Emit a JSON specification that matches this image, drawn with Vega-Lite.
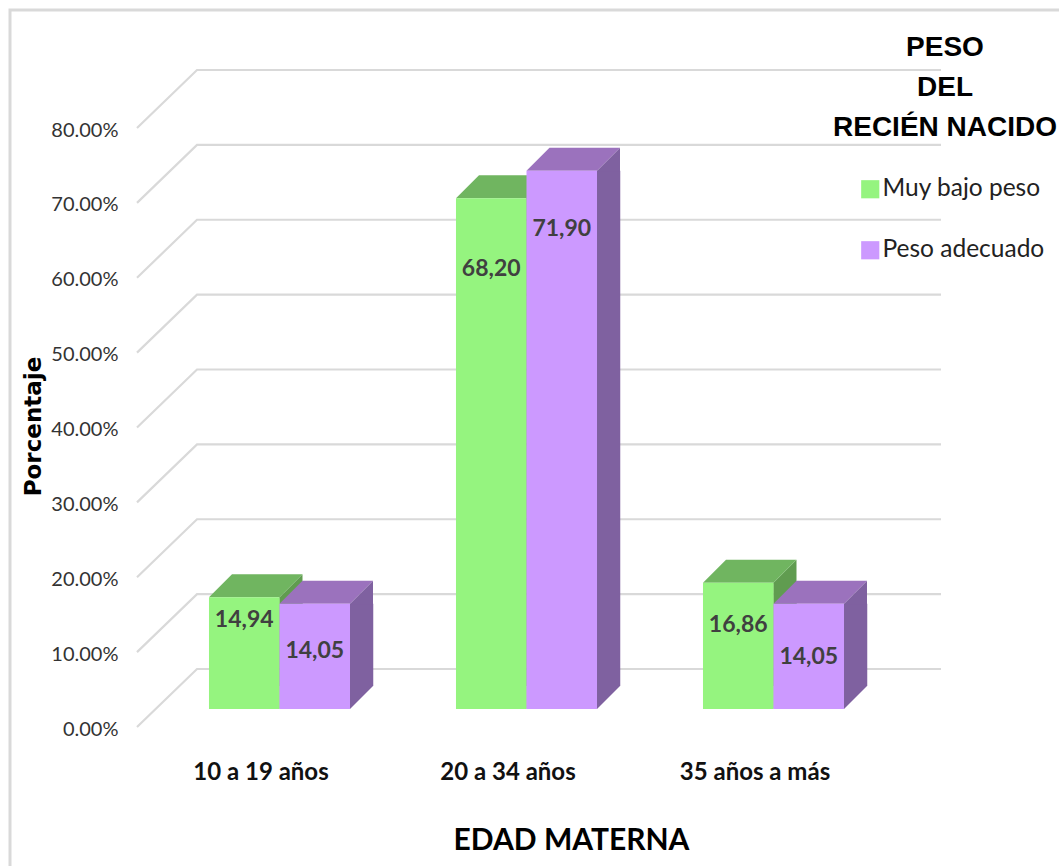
{
"$schema":"https://vega.github.io/schema/vega-lite/v6.json",
"width":741,"height":599,
"padding":{"left":156,"top":110,"right":162,"bottom":157},
"autosize":{"type":"none"},
"background":"white",
"config":{"view":{"stroke":null}},
"datasets":{
"barras":[
{"edad":"10 a 19 años","serie":"Muy bajo peso","valor":14.94,"etiqueta":"14,94"},
{"edad":"10 a 19 años","serie":"Peso adecuado","valor":14.05,"etiqueta":"14,05"},
{"edad":"20 a 34 años","serie":"Muy bajo peso","valor":68.2,"etiqueta":"68,20"},
{"edad":"20 a 34 años","serie":"Peso adecuado","valor":71.9,"etiqueta":"71,90"},
{"edad":"35 años a más","serie":"Muy bajo peso","valor":16.86,"etiqueta":"16,86"},
{"edad":"35 años a más","serie":"Peso adecuado","valor":14.05,"etiqueta":"14,05"}],
"marcas":[{"marca":0},{"marca":10},{"marca":20},{"marca":30},{"marca":40},{"marca":50},{"marca":60},{"marca":70},{"marca":80}],
"marco":[{"marca":0}]
},
"data":{"name":"barras"},
"resolve":{"scale":{"color":"independent"}},
"layer":[
{"data":{"name":"marco"},
 "mark":{"type":"point","shape":"M-5.165,1.57L-5.165,-6.99L5.325,-6.99","size":40000,"filled":false,"stroke":"#d9d9d9","strokeWidth":3,"opacity":1},
 "encoding":{"x":{"datum":"20 a 34 años","type":"nominal","title":"EDAD MATERNA"},"y":{"field":"marca","type":"quantitative","title":"Porcentaje"}}},
{"data":{"name":"marcas"},
 "mark":{"type":"point","shape":"M-3.895,0.18L-3.295,-0.4L4.145,-0.4","size":40000,"filled":false,"stroke":"#d9d9d9","strokeWidth":2.2,"opacity":1},
 "encoding":{"x":{"datum":"20 a 34 años","type":"nominal","title":"EDAD MATERNA"},"y":{"field":"marca","type":"quantitative","title":"Porcentaje"}}},
{"transform":[{"filter":"datum.serie=='Muy bajo peso'"}],
 "mark":{"type":"bar","width":23.5,"xOffset":11.5,"y2Offset":-23,"color":"#609C50"},
 "encoding":{
  "x":{"field":"edad","type":"nominal","sort":null},
  "y":{"field":"valor","type":"quantitative"},"y2":{"datum":0}}},
{"transform":[{"filter":"datum.serie=='Peso adecuado'"}],
 "mark":{"type":"bar","width":23.5,"xOffset":82,"y2Offset":-23,"color":"#7F61A0"},
 "encoding":{
  "x":{"field":"edad","type":"nominal","sort":null},
  "y":{"field":"valor","type":"quantitative"},"y2":{"datum":0}}},
{"mark":{"type":"point","shape":"M0.3525,0L0.5825,-0.23L0.5825,0.01L0.3525,0.01Z","size":40000,"filled":true,"opacity":1},
 "encoding":{
  "x":{"field":"edad","type":"nominal","sort":null},
  "xOffset":{"field":"serie","type":"nominal","sort":null},
  "y":{"field":"valor","type":"quantitative"},
  "color":{"field":"serie","type":"nominal","legend":null,"scale":{"domain":["Muy bajo peso","Peso adecuado"],"range":["#609C50","#7F61A0"]}}}},
{"mark":{"type":"point","shape":"M0.3525,0L0.5825,-0.23L0.3525,-0.23Z","size":40000,"filled":true,"opacity":1},
 "encoding":{
  "x":{"field":"edad","type":"nominal","sort":null},
  "xOffset":{"field":"serie","type":"nominal","sort":null},
  "y":{"datum":0,"type":"quantitative"},
  "color":{"field":"serie","type":"nominal","legend":null,"scale":{"domain":["Muy bajo peso","Peso adecuado"],"range":["#609C50","#7F61A0"]}}}},
{"mark":{"type":"point","shape":"M-0.3525,0L0.3525,0L0.5825,-0.23L-0.1225,-0.23Z","size":40000,"filled":true,"opacity":1},
 "encoding":{
  "x":{"field":"edad","type":"nominal","sort":null},
  "xOffset":{"field":"serie","type":"nominal","sort":null},
  "y":{"field":"valor","type":"quantitative"},
  "color":{"field":"serie","type":"nominal","legend":null,"scale":{"domain":["Muy bajo peso","Peso adecuado"],"range":["#70B560","#9B72BD"]}}}},
{"mark":{"type":"bar"},
 "encoding":{
  "x":{"field":"edad","type":"nominal","sort":null,"scale":{"domain":["10 a 19 años","20 a 34 años","35 años a más"],"paddingInner":0.429,"paddingOuter":0.2145},
   "axis":{"title":"EDAD MATERNA","titleFont":"Lato","titleFontWeight":"bold","titleFontSize":30,"titleColor":"#000000","titleX":415,"titleY":131,"titleBaseline":"middle","domain":false,"ticks":false,"grid":false,"labelAngle":0,"labelAlign":"center","labelOffset":-18.5,"labelFont":"Lato","labelFontWeight":"bold","labelFontSize":24,"labelColor":"#111111","labelBaseline":"middle","labelPadding":63}},
  "xOffset":{"field":"serie","type":"nominal","sort":null,"scale":{"paddingInner":0,"paddingOuter":0}},
  "y":{"field":"valor","type":"quantitative","stack":null,"scale":{"domain":[0,80],"nice":false},
   "axis":{"title":"Porcentaje","titleFont":"DejaVu Sans","titleFontWeight":"bold","titleFontSize":23,"titleColor":"#000000","titleX":-123,"titleY":316,"titleAngle":270,"titleBaseline":"middle","titleAlign":"center","values":[0,10,20,30,40,50,60,70,80],"grid":false,"domain":false,"ticks":false,"labelOffset":20,"labelPadding":38,"labelFont":"Lato","labelFontSize":20,"labelColor":"#333333","labelExpr":"format(datum.value,'.2f')+'%'"}},
  "color":{"field":"serie","type":"nominal","scale":{"domain":["Muy bajo peso","Peso adecuado"],"range":["#95F47F","#CC99FF"]},
   "legend":{"title":["PESO","DEL","RECIÉN NACIDO"],"orient":"none","legendX":677,"legendY":-76,"titleFont":"Liberation Sans","titleFontWeight":"bold","titleFontSize":28,"titleColor":"#000000","titleLineHeight":40,"titleLimit":400,"titleAnchor":"middle","titleAlign":"center","titlePadding":35,"symbolType":"square","symbolSize":330,"symbolOffset":13,"symbolStrokeWidth":0,"labelFont":"Lato","labelFontSize":24.5,"labelColor":"#222222","labelOffset":0,"rowPadding":36,"labelLimit":300}}}},
{"transform":[{"filter":"datum.edad=='10 a 19 años' && datum.serie=='Muy bajo peso'"}],"mark":{"type":"text","dy":23,"font":"Lato","fontWeight":"bold","fontSize":23,"fill":"#404040"},
 "encoding":{"x":{"field":"edad","type":"nominal","sort":null},"xOffset":{"field":"serie","type":"nominal","sort":null},"y":{"field":"valor","type":"quantitative"},"text":{"field":"etiqueta","type":"nominal"}}},
{"transform":[{"filter":"datum.edad=='10 a 19 años' && datum.serie=='Peso adecuado'"}],"mark":{"type":"text","dy":47,"font":"Lato","fontWeight":"bold","fontSize":23,"fill":"#404040"},
 "encoding":{"x":{"field":"edad","type":"nominal","sort":null},"xOffset":{"field":"serie","type":"nominal","sort":null},"y":{"field":"valor","type":"quantitative"},"text":{"field":"etiqueta","type":"nominal"}}},
{"transform":[{"filter":"datum.edad=='20 a 34 años' && datum.serie=='Muy bajo peso'"}],"mark":{"type":"text","dy":71,"font":"Lato","fontWeight":"bold","fontSize":23,"fill":"#404040"},
 "encoding":{"x":{"field":"edad","type":"nominal","sort":null},"xOffset":{"field":"serie","type":"nominal","sort":null},"y":{"field":"valor","type":"quantitative"},"text":{"field":"etiqueta","type":"nominal"}}},
{"transform":[{"filter":"datum.edad=='20 a 34 años' && datum.serie=='Peso adecuado'"}],"mark":{"type":"text","dy":58,"font":"Lato","fontWeight":"bold","fontSize":23,"fill":"#404040"},
 "encoding":{"x":{"field":"edad","type":"nominal","sort":null},"xOffset":{"field":"serie","type":"nominal","sort":null},"y":{"field":"valor","type":"quantitative"},"text":{"field":"etiqueta","type":"nominal"}}},
{"transform":[{"filter":"datum.edad=='35 años a más' && datum.serie=='Muy bajo peso'"}],"mark":{"type":"text","dy":42,"font":"Lato","fontWeight":"bold","fontSize":23,"fill":"#404040"},
 "encoding":{"x":{"field":"edad","type":"nominal","sort":null},"xOffset":{"field":"serie","type":"nominal","sort":null},"y":{"field":"valor","type":"quantitative"},"text":{"field":"etiqueta","type":"nominal"}}},
{"transform":[{"filter":"datum.edad=='35 años a más' && datum.serie=='Peso adecuado'"}],"mark":{"type":"text","dy":53,"font":"Lato","fontWeight":"bold","fontSize":23,"fill":"#404040"},
 "encoding":{"x":{"field":"edad","type":"nominal","sort":null},"xOffset":{"field":"serie","type":"nominal","sort":null},"y":{"field":"valor","type":"quantitative"},"text":{"field":"etiqueta","type":"nominal"}}}
]
}
